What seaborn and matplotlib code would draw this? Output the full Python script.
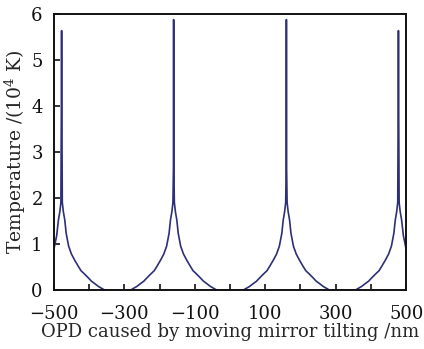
import numpy as np
import pandas as pd
import matplotlib
matplotlib.use("Agg")
import matplotlib.pyplot as plt
import seaborn as sns

# OPD (nm) and temperature (10^4 K)
opd = [
    -500, -492, -487, -483, -480, -478.6, -478, -477.4, -476, -473, -469, -465,
    -458, -450, -441, -431, -423, -412, -403, -393, -384, -374, -365, -356,
    -282, -273, -264, -254, -245, -235, -226, -215, -207, -197, -188, -180,
    -173, -169, -165, -162, -160.6, -160, -159.4, -158, -155, -151, -147,
    -140, -132, -123, -113, -105, -94, -85, -75, -66, -56, -47, -38,
    38, 47, 56, 66, 75, 85, 94, 105, 113, 123, 132, 140,
    147, 151, 155, 158, 159.4, 160, 160.6, 162, 165, 169, 173,
    180, 188, 197, 207, 215, 226, 235, 245, 254, 264, 273, 282,
    356, 365, 374, 384, 393, 403, 412, 423, 431, 441, 450, 458,
    465, 469, 473, 476, 477.4, 478, 478.6, 480, 483, 487, 492, 500,
]
temperature = [
    0.88, 1.18, 1.52, 1.70, 1.90, 4.05, 5.63, 4.05, 1.90, 1.70, 1.52, 1.23,
    0.95, 0.78, 0.65, 0.52, 0.42, 0.34, 0.27, 0.19, 0.14, 0.08, 0.04, 0.00,
    0.00, 0.04, 0.08, 0.14, 0.19, 0.27, 0.34, 0.42, 0.52, 0.65, 0.78, 0.95,
    1.23, 1.52, 1.70, 1.90, 2.65, 5.87, 2.65, 1.90, 1.70, 1.52, 1.23,
    0.95, 0.78, 0.65, 0.52, 0.42, 0.34, 0.27, 0.19, 0.14, 0.08, 0.04, 0.00,
    0.00, 0.04, 0.08, 0.14, 0.19, 0.27, 0.34, 0.42, 0.52, 0.65, 0.78, 0.95,
    1.23, 1.52, 1.70, 1.90, 2.65, 5.87, 2.65, 1.90, 1.70, 1.52, 1.23,
    0.95, 0.78, 0.65, 0.52, 0.42, 0.34, 0.27, 0.19, 0.14, 0.08, 0.04, 0.00,
    0.00, 0.04, 0.08, 0.14, 0.19, 0.27, 0.34, 0.42, 0.52, 0.65, 0.78, 0.95,
    1.23, 1.52, 1.70, 1.90, 4.05, 5.63, 4.05, 1.90, 1.70, 1.52, 1.18, 0.88,
]

x_ticks = [-500, -400, -300, -200, -100, 0, 100, 200, 300, 400, 500]
x_tick_labels = ["\u2212500", "", "\u2212300", "", "\u2212100", "", "100", "", "300", "", "500"]
y_ticks = [0, 1, 2, 3, 4, 5, 6]

sns.set_style("ticks")
plt.rcParams["font.family"] = ["DejaVu Serif"]
plt.rcParams["mathtext.fontset"] = "dejavuserif"

df = pd.DataFrame({"opd": opd, "temp": temperature})

fig = plt.figure(figsize=(4.24, 3.49), dpi=100)
ax = fig.add_axes([0.127, 0.169, 0.831, 0.792])
sns.lineplot(data=df, x="opd", y="temp", sort=False, estimator=None,
             color="#2d2f78", linewidth=1.2, ax=ax)

ax.set_xlim(-500, 500)
ax.set_ylim(0, 6)
ax.set_xticks(x_ticks)
ax.set_xticklabels(x_tick_labels)
ax.set_yticks(y_ticks)
ax.tick_params(direction="in", length=4, width=1.2, labelsize=13, colors="#111111")
ax.tick_params(axis="x", pad=11)
ax.tick_params(axis="y", pad=8)
for s in ax.spines.values():
    s.set_visible(True)
    s.set_linewidth(1.4)
    s.set_color("#111111")

ax.set_xlabel("OPD caused by moving mirror tilting /nm", fontsize=13, labelpad=0)
ax.set_ylabel(r"Temperature /(10$^{4}$ K)", fontsize=13.5, labelpad=2)

fig.savefig("out.png", dpi=100, facecolor="white")
